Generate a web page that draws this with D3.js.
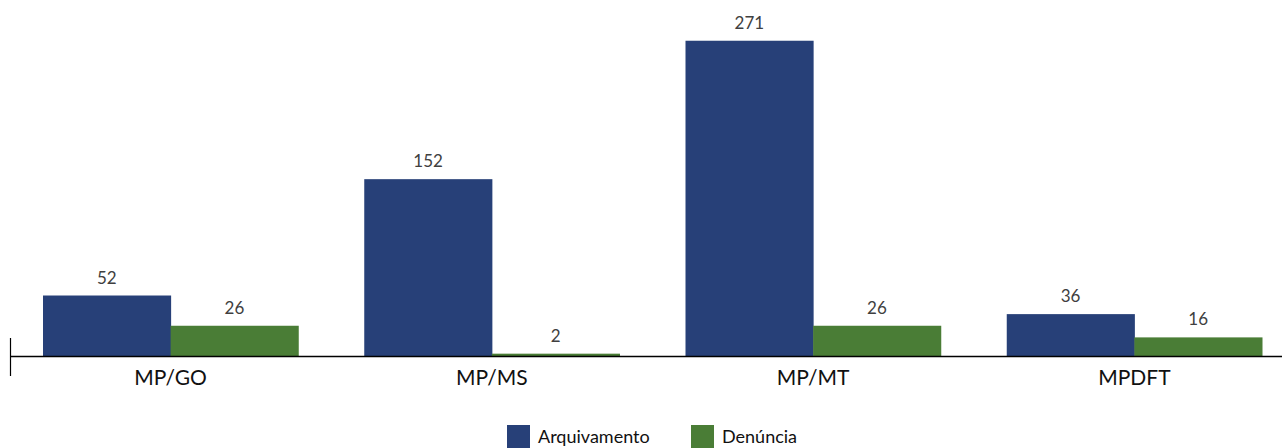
<!DOCTYPE html>
<html><head><meta charset="utf-8">
<script src="https://cdn.jsdelivr.net/npm/d3@7"></script>
<style>body{margin:0;background:#fff;}svg{display:block;font-family:"Lato","Noto Sans",sans-serif;}</style>
</head><body>
<svg id="c" width="1282" height="448"></svg>
<script>
const categories = ["MP/GO", "MP/MS", "MP/MT", "MPDFT"];
const seriesNames = ["Arquivamento", "Denúncia"];
const arquivamento = [52, 152, 271, 36];
const denuncia = [26, 2, 26, 16];
const colors = ["#274078", "#4a7d36"];

const svg = d3.select("#c");
const x0 = d3.scaleBand().domain(categories).range([10, 1295]).paddingInner(0).paddingOuter(0);
const x1 = d3.scaleBand().domain(seriesNames).range([33, x0.bandwidth() - 33]).padding(0);
const y = d3.scaleLinear().domain([0, 300]).range([356, 7]);

const data = categories.map((c, i) => ({cat: c, vals: [arquivamento[i], denuncia[i]]}));

const g = svg.selectAll("g.grp").data(data).join("g")
  .attr("transform", d => `translate(${x0(d.cat)},0)`);
g.selectAll("rect").data(d => d.vals.map((v, j) => ({s: seriesNames[j], v, j}))).join("rect")
  .attr("x", d => x1(d.s)).attr("width", x1.bandwidth() + 0.5)
  .attr("y", d => y(d.v)).attr("height", d => y(0) - y(d.v))
  .attr("fill", d => colors[d.j]);
g.selectAll("text.val").data(d => d.vals.map((v, j) => ({s: seriesNames[j], v, j}))).join("text")
  .attr("class", "val")
  .attr("x", d => x1(d.s) + x1.bandwidth() / 2).attr("y", d => y(d.v) - 12)
  .attr("text-anchor", "middle").attr("font-size", 17).attr("fill", "#404040")
  .text(d => d.v);

// axis
const axis = svg.append("g").attr("transform", `translate(0,${y(0)})`)
  .call(d3.axisBottom(x0).tickSize(0).tickPadding(14));
axis.select(".domain").attr("stroke", "#000").attr("stroke-width", 1.3).attr("d", "M10,0.5H1282");
axis.selectAll("text").attr("font-size", 21).attr("fill", "#111").attr("font-family", "Lato, sans-serif");
svg.append("line").attr("x1", 10.5).attr("x2", 10.5).attr("y1", 338).attr("y2", 376).attr("stroke", "#000").attr("stroke-width", 1.2);

// legend
const legendX = [507, 691];
const lg = svg.selectAll("g.leg").data(seriesNames).join("g").attr("class", "leg")
  .attr("transform", (d, i) => `translate(${legendX[i]},425)`);
lg.append("rect").attr("width", 23).attr("height", 23).attr("fill", (d, i) => colors[i]);
lg.append("text").attr("x", 31).attr("y", 18).attr("font-size", 18).attr("fill", "#111").text(d => d);
</script>
</body></html>
